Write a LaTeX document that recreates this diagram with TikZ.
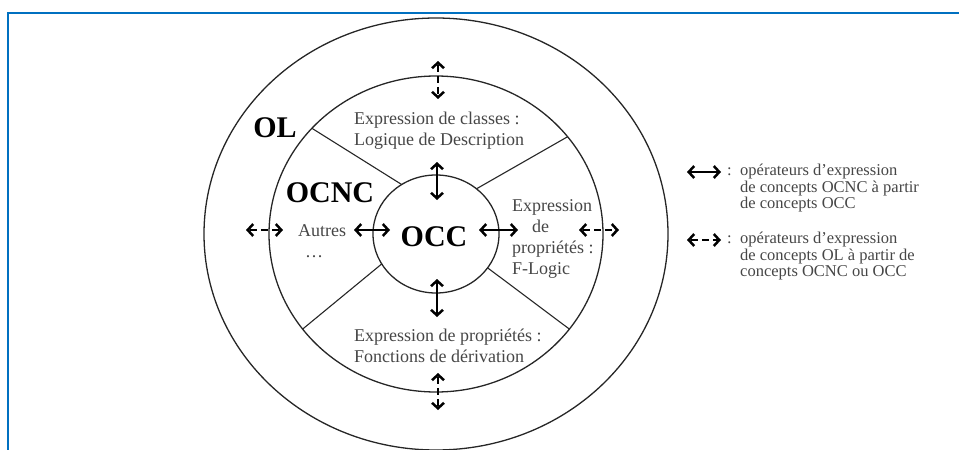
\documentclass[tikz,border=0pt]{standalone}
\usepackage{fontspec}
\setmainfont{Liberation Serif}
\usetikzlibrary{arrows.meta,calc}
\definecolor{framebl}{RGB}{0,112,192}
\definecolor{txtgray}{RGB}{70,70,70}
\begin{document}
\begin{tikzpicture}[x=1pt,y=-1pt,
  ring/.style={draw=black!85, line width=1.3pt},
  spoke/.style={draw=black!85, line width=1.1pt},
  tipbarb/.tip={Straight Barb[length=5.5pt,width=12pt,line width=2.5pt]},
  opsolid/.style={line width=2.5pt, tipbarb-tipbarb},
  opdashed/.style={line width=2.5pt, dash pattern=on 7pt off 4pt, dash phase=-1pt, tipbarb-tipbarb},
  body/.style={text=txtgray, font=\fontsize{18}{21}\selectfont, inner sep=0pt, align=left},
  title/.style={font=\fontsize{30}{32}\selectfont\bfseries, inner sep=0pt},
  legend/.style={text=txtgray, font=\fontsize{16.5}{16.5}\selectfont, inner sep=0pt, align=left}]

\useasboundingbox (0,0) rectangle (959,450);

% frame
\draw[framebl, line width=2.2pt] (8,13) rectangle (1100,600);

% centre of the three rings
\coordinate (c) at (436,234);

% rings
\draw[ring] (c) ellipse [x radius=232pt, y radius=216pt];
\draw[ring] (c) ellipse [x radius=167pt, y radius=158pt];
\draw[ring] (c) ellipse [x radius=63pt, y radius=59pt];

% spokes between inner circle and middle ring
\coordinate (ul1) at ($(c)+(123:63pt and 59pt)$);
\coordinate (ul2) at ($(c)+(138:167pt and 158pt)$);
\coordinate (ur1) at ($(c)+(50:63pt and 59pt)$);
\coordinate (ur2) at ($(c)+(38:167pt and 158pt)$);
\coordinate (ll1) at ($(c)+(-149.5:63pt and 59pt)$);
\coordinate (ll2) at ($(c)+(-143:167pt and 158pt)$);
\coordinate (lr1) at ($(c)+(-35:63pt and 59pt)$);
\coordinate (lr2) at ($(c)+(-37:167pt and 158pt)$);
\draw[spoke] (ul1) -- (ul2);
\draw[spoke] (ur1) -- (ur2);
\draw[spoke] (ll1) -- (ll2);
\draw[spoke] (lr1) -- (lr2);

% ring labels
\node[title] (ol) at (275,128) {OL};
\node[title] (ocnc) at (330,193) {OCNC};
\node[title] (occ) at (434,237) {OCC};

% sector texts
\node[body, anchor=west] (classes) at (354,131)
  {Expression de classes :\\Logique de Description};
\node[body, anchor=west] (derivation) at (354,346)
  {Expression de propriétés :\\Fonctions de dérivation};
\node[body, anchor=west] (flogic) at (512,239)
  {Expression\\\hspace*{20pt}de\\propriétés :\\F-Logic};
\node[body, anchor=west] (autres) at (298,241)
  {Autres\\\hspace*{7pt}…};

% operators between OCC and OCNC
\coordinate (st1) at (437,162); \coordinate (st2) at (437,200);
\coordinate (sb1) at (437,279); \coordinate (sb2) at (437,317);
\coordinate (sl1) at (354,230); \coordinate (sl2) at (390,230);
\coordinate (sr1) at (479,230); \coordinate (sr2) at (518,230);
\draw[opsolid] (st1) -- (st2);
\draw[opsolid] (sb1) -- (sb2);
\draw[opsolid] (sl1) -- (sl2);
\draw[opsolid] (sr1) -- (sr2);

% operators between OCNC and OL
\coordinate (dt1) at (438,61); \coordinate (dt2) at (438,99);
\coordinate (db1) at (438,373); \coordinate (db2) at (438,410);
\coordinate (dl1) at (246,230); \coordinate (dl2) at (283,230);
\coordinate (dr1) at (579,230); \coordinate (dr2) at (619,230);
\draw[opdashed] (dt1) -- (dt2);
\draw[opdashed] (db1) -- (db2);
\draw[opdashed] (dl1) -- (dl2);
\draw[opdashed] (dr1) -- (dr2);

% legend
\coordinate (la1) at (687,172); \coordinate (la2) at (721,172);
\coordinate (lb1) at (687,240); \coordinate (lb2) at (721,240);
\draw[opsolid] (la1) -- (la2);
\draw[opdashed] (lb1) -- (lb2);
\node[legend, anchor=west] (colA) at (727,172) {:};
\node[legend, anchor=north west] (legA) at (740,164)
  {opérateurs d’expression\\de concepts OCNC à partir\\de concepts OCC};
\node[legend, anchor=west] (colB) at (727,240) {:};
\node[legend, anchor=north west] (legB) at (740,232)
  {opérateurs d’expression\\de concepts OL à partir de\\concepts OCNC ou OCC};

\end{tikzpicture}
\end{document}
